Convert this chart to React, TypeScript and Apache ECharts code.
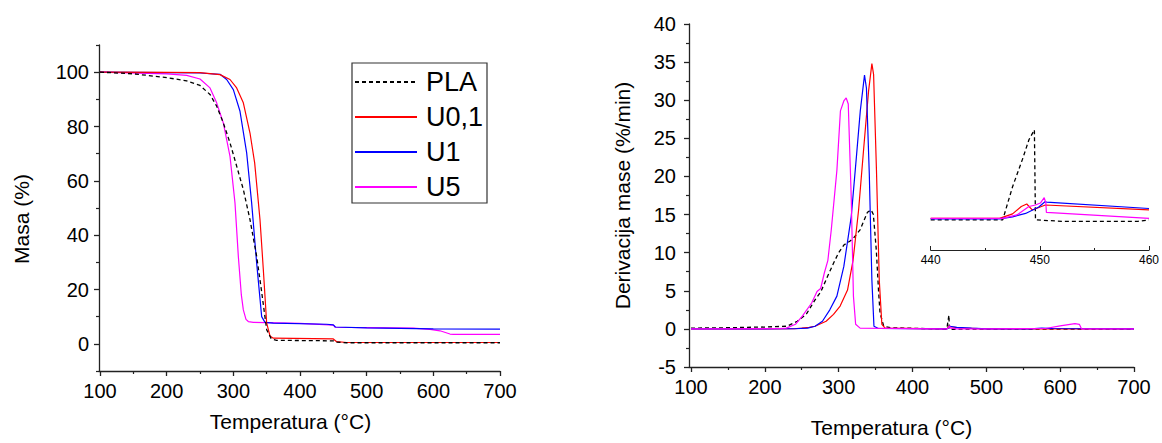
import React, { useEffect, useRef } from "react";
import * as echarts from "echarts";

// ---- Legend / series names ----
const seriesNames = ["PLA", "U0,1", "U1", "U5"];
const seriesColors = ["#000000", "#ff0000", "#0000ff", "#ff00ff"];

// ---- TGA (left): [Temperatura °C, Masa %] ----
const tgaPLA: number[][] = [
  [100, 100], [150, 99.4], [200, 98.0], [230, 96.8], [250, 95.1], [265, 91.8], [275, 87.5],
  [285, 81.3], [295, 74.0], [305, 65.4], [315, 56.8], [325, 45.7], [335, 32.2], [342, 20.0],
  [350, 5.2], [357, 1.8], [365, 1.3], [450, 1.1], [455, 0.6], [470, 0.4], [700, 0.4],
];
const tgaU01: number[][] = [
  [100, 100], [200, 99.9], [250, 99.8], [280, 99.1], [295, 97.3], [305, 94.2], [315, 88.7],
  [325, 77.6], [332, 66.6], [340, 45.7], [345, 27.3], [350, 7.6], [355, 2.9], [360, 2.1],
  [450, 1.8], [455, 0.8], [470, 0.5], [700, 0.5],
];
const tgaU1: number[][] = [
  [100, 100], [200, 99.8], [250, 99.7], [280, 99.2], [290, 97.3], [300, 93.6], [310, 85.6],
  [320, 70.3], [327.5, 51.8], [335, 29.7], [342.5, 10.0], [347.5, 7.9], [360, 7.6],
  [440, 7.2], [450, 7.0], [453, 6.2], [500, 5.9], [600, 5.5], [700, 5.4],
];
const tgaU5: number[][] = [
  [100, 100], [200, 99.4], [230, 98.8], [250, 97.5], [265, 94.2], [275, 88.7], [285, 81.3],
  [295, 69.0], [302.5, 51.8], [307.5, 32.2], [312, 18.0], [315, 12.5], [319, 9.0], [322.5, 8.2],
  [330, 7.9], [400, 7.5], [450, 6.9], [453, 6.1], [500, 6.0], [570, 5.8], [595, 5.3],
  [610, 4.8], [625, 3.6], [630, 3.5], [700, 3.5],
];

// ---- DTG (right): [Temperatura °C, Derivacija mase %/min] ----
const dtgPLA: number[][] = [
  [100, 0.1], [150, 0.15], [200, 0.25], [230, 0.35], [244, 1.0], [256, 1.9], [268, 3.8],
  [276, 4.9], [285, 6.9], [293, 8.6], [300, 10.0], [307, 11.0], [315, 11.5], [320, 11.9],
  [329, 13.0], [339, 15.3], [344, 15.6], [347, 15.0], [351, 10.3], [354, 5.0], [356, 2.1],
  [361, 0.35], [370, 0.15], [440, -0.02], [446.6, -0.02], [447.5, 0.65], [448.4, 1.2],
  [449, 1.6], [449.5, 1.8], [449.6, -0.02], [452, -0.05], [459, -0.05], [460, -0.02],
  [700, -0.03],
];
const dtgU01: number[][] = [
  [100, 0], [240, 0.02], [250, 0.1], [260, 0.2], [268, 0.35], [283, 1.0], [293, 1.9],
  [302, 3.0], [312, 5.1], [319.5, 9.0], [327, 15.6], [334, 23.8], [340.5, 31.2], [345, 34.8],
  [347.3, 33.4], [351.2, 20.8], [355, 6.4], [358.5, 0.6], [363, 0.1], [440, 0.01],
  [446.3, 0.01], [447.5, 0.1], [448.3, 0.25], [448.8, 0.3], [449.3, 0.18], [449.8, 0.22],
  [450.5, 0.28], [460, 0.18], [470, 0.1], [500, 0], [700, 0],
];
const dtgU1: number[][] = [
  [100, 0], [240, 0.02], [258, 0.1], [268, 0.35], [278, 1.0], [288, 2.5], [297.6, 4.3],
  [307, 8.2], [317, 14.7], [324.4, 23.0], [329.3, 28.6], [335, 33.3], [337.6, 31.6],
  [341.5, 20.3], [345, 6.4], [347.8, 0.35], [353.7, 0.05], [440, 0.0], [446.3, 0.0],
  [447.5, 0.04], [448.7, 0.11], [449.9, 0.24], [450.5, 0.35], [450.6, 0.34], [460, 0.21],
  [480, 0.1], [500, 0], [560, 0], [575, 0.1], [590, 0.05], [700, 0],
];
const dtgU5: number[][] = [
  [100, 0], [220, 0.05], [229, 0.1], [241.5, 0.6], [251, 1.7], [263.4, 3.4], [270.7, 4.9],
  [275.6, 5.3], [280.5, 7.3], [285.4, 9.0], [290, 13.0], [297.6, 20.8], [302.4, 28.6],
  [307, 29.9], [310.2, 30.3], [313, 29.5], [317, 17.3], [320, 4.3], [323, 0.6], [329, 0.1],
  [440, 0.01], [446.6, 0.01], [447.9, 0.08], [449, 0.25], [449.6, 0.28], [450.05, 0.32],
  [450.4, 0.43], [450.55, 0.32], [450.6, 0.13], [460, 0.01], [500, 0], [580, 0.05],
  [600, 0.4], [620, 0.7], [626, 0.6], [629, 0], [700, 0],
];

// ---- Tick values ----
const tempMajor = [100, 200, 300, 400, 500, 600, 700];
const tempMinor = [150, 250, 350, 450, 550, 650];
const masaMajor = [0, 20, 40, 60, 80, 100];
const masaMinor = [-10, 10, 30, 50, 70, 90, 110];
const derivMajor = [-5, 0, 5, 10, 15, 20, 25, 30, 35, 40];
const derivMinor = [-2.5, 2.5, 7.5, 12.5, 17.5, 22.5, 27.5, 32.5, 37.5];
const insetMajor = [440, 450, 460];
const insetMinor = [445, 455];

const FONT = "'Liberation Sans', Arial, sans-serif";
const AX = "#222";

export default function App() {
  const ref = useRef<HTMLDivElement>(null);
  useEffect(() => {
    if (!ref.current) return;
    const chart = echarts.init(ref.current, undefined, { renderer: "svg" });

    const majorX = (grid: number, min: number, max: number, name: string, gap: number, pad: number[]) => ({
      type: "value", gridIndex: grid, min, max, position: "bottom",
      axisLine: { show: true, onZero: false, lineStyle: { color: AX, width: 1.3 } },
      axisTick: { show: true, inside: false, length: 5, customValues: tempMajor, lineStyle: { color: AX, width: 1.3 } },
      axisLabel: { show: true, customValues: tempMajor, fontSize: 20, color: "#000", margin: 10, fontFamily: FONT },
      splitLine: { show: false },
      name, nameLocation: "middle", nameGap: gap,
      nameTextStyle: { fontSize: 21, color: "#000", fontFamily: FONT, padding: pad },
    });
    const minorX = (grid: number, min: number, max: number) => ({
      type: "value", gridIndex: grid, min, max, position: "bottom",
      axisLine: { show: false, onZero: false },
      axisTick: { show: true, inside: false, length: 3, customValues: tempMinor, lineStyle: { color: AX, width: 1.2 } },
      axisLabel: { show: false }, splitLine: { show: false },
    });
    const majorY = (grid: number, min: number, max: number, vals: number[], name: string, gap: number, margin: number, pad: number[]) => ({
      type: "value", gridIndex: grid, min, max, position: "left",
      axisLine: { show: true, onZero: false, lineStyle: { color: AX, width: 1.3 } },
      axisTick: { show: true, inside: false, length: 5, customValues: vals, lineStyle: { color: AX, width: 1.3 } },
      axisLabel: { show: true, customValues: vals, fontSize: 20, color: "#000", margin, fontFamily: FONT },
      splitLine: { show: false },
      name, nameLocation: "middle", nameGap: gap,
      nameTextStyle: { fontSize: 21, color: "#000", fontFamily: FONT, padding: pad },
    });
    const minorY = (grid: number, min: number, max: number, vals: number[]) => ({
      type: "value", gridIndex: grid, min, max, position: "left",
      axisLine: { show: false, onZero: false },
      axisTick: { show: true, inside: false, length: 3, customValues: vals, lineStyle: { color: AX, width: 1.2 } },
      axisLabel: { show: false }, splitLine: { show: false },
    });

    const tga = [tgaPLA, tgaU01, tgaU1, tgaU5];
    const dtg = [dtgPLA, dtgU01, dtgU1, dtgU5];
    const lineStyle = (i: number) => ({
      color: seriesColors[i],
      width: i === 0 ? 1.3 : 1.2,
      type: i === 0 ? [4, 3] : "solid",
    });
    const series: any[] = [];
    tga.forEach((d, i) =>
      series.push({
        type: "line", name: seriesNames[i], xAxisIndex: 0, yAxisIndex: 0, data: d,
        symbol: "none", showSymbol: false, color: seriesColors[i], lineStyle: lineStyle(i), z: 5 - i,
      })
    );
    dtg.forEach((d, i) =>
      series.push({
        type: "line", name: seriesNames[i], xAxisIndex: 2, yAxisIndex: 2, data: d,
        symbol: "none", showSymbol: false, color: seriesColors[i], lineStyle: lineStyle(i),
        z: i === 0 ? 1 : 2 + i,
      })
    );
    dtg.forEach((d, i) =>
      series.push({
        type: "line", name: seriesNames[i], xAxisIndex: 4, yAxisIndex: 4,
        data: d.filter((p) => p[0] >= 440 && p[0] <= 460),
        symbol: "none", showSymbol: false, color: seriesColors[i], lineStyle: lineStyle(i),
        z: i === 0 ? 1 : 2 + i,
      })
    );

    chart.setOption({
      animation: false,
      backgroundColor: "#ffffff",
      textStyle: { fontFamily: FONT },
      grid: [
        { left: 99, top: 45, width: 401, height: 326 },
        { left: 689, top: 24, width: 445, height: 347 },
        { left: 930.7, top: 120, width: 221, height: 130 },
      ],
      xAxis: [
        majorX(0, 98.5, 700, "Temperatura (°C)", 40, [0, 18, 0, 0]),
        minorX(0, 98.5, 700),
        majorX(1, 97.3, 700, "Temperatura (°C)", 50, [0, 40, 0, 0]),
        minorX(1, 97.3, 700),
        {
          type: "value", gridIndex: 2, min: 440, max: 460, position: "bottom",
          axisLine: { show: true, onZero: false, lineStyle: { color: AX, width: 1.1 } },
          axisTick: { show: true, inside: true, length: 4, customValues: insetMajor, lineStyle: { color: AX, width: 1 } },
          axisLabel: { show: true, customValues: insetMajor, fontSize: 12, color: "#000", margin: 4, fontFamily: FONT },
          splitLine: { show: false },
        },
        {
          type: "value", gridIndex: 2, min: 440, max: 460, position: "bottom",
          axisLine: { show: false, onZero: false },
          axisTick: { show: true, inside: true, length: 2, customValues: insetMinor, lineStyle: { color: AX, width: 1 } },
          axisLabel: { show: false }, splitLine: { show: false },
        },
      ],
      yAxis: [
        majorY(0, -10, 110, masaMajor, "Masa (%)", 67, 10, [0, 22, 0, 0]),
        minorY(0, -10, 110, masaMinor),
        majorY(1, -5, 40, derivMajor, "Derivacija mase (%/min)", 56, 13, [0, 0, 0, 0]),
        minorY(1, -5, 40, derivMinor),
        { type: "value", gridIndex: 2, min: -0.63, max: 2.0, show: false, splitLine: { show: false } },
      ],
      legend: {
        data: seriesNames,
        orient: "vertical",
        left: 354,
        top: 68.5,
        padding: 0,
        itemWidth: 62,
        itemHeight: 20,
        itemGap: 8,
        itemStyle: { color: "rgba(0,0,0,0)", borderColor: "rgba(0,0,0,0)", borderWidth: 0 },
        textStyle: { fontSize: 27, color: "#000", fontFamily: FONT, padding: [0, 0, 0, 4] },
        selectedMode: false,
      },
      graphic: [
        {
          type: "rect",
          shape: { x: 352, y: 63, width: 135, height: 140 },
          style: { fill: "none", stroke: "#333", lineWidth: 1.2 },
          silent: true,
        },
      ],
      series,
    });
    return () => chart.dispose();
  }, []);
  return (
    <div
      ref={ref}
      style={{ position: "fixed", left: 0, top: 0, width: 1162, height: 443, background: "#fff" }}
    />
  );
}
